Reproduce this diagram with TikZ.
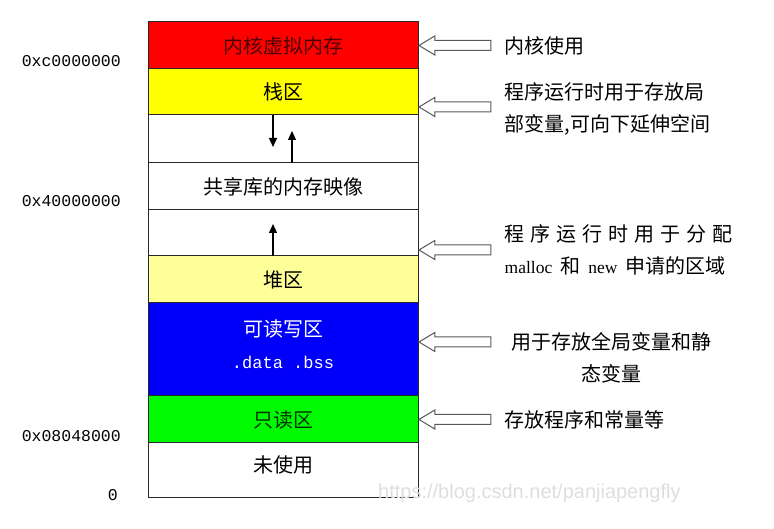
\documentclass[tikz,border=0pt]{standalone}
\usepackage{fontspec}
\setmainfont{Noto Sans CJK SC}
\newfontfamily\addrfont{Liberation Mono}
\newfontfamily\codefont{Liberation Mono}
\newfontfamily\latfont{Liberation Serif}
\newfontfamily\wmfont{Liberation Sans}
\usepackage{tikz}
\usetikzlibrary{shapes.arrows, arrows.meta, positioning, calc}
\definecolor{kernelred}{RGB}{255,0,0}
\definecolor{stackyellow}{RGB}{255,255,0}
\definecolor{heapyellow}{RGB}{255,255,153}
\definecolor{datablue}{RGB}{0,0,250}
\definecolor{rogreen}{RGB}{0,250,0}
\definecolor{edgegray}{RGB}{40,40,40}

\begin{document}
\begin{tikzpicture}[
  x=1pt, y=1pt,
  seg/.style={rectangle, draw=edgegray, line width=1pt, minimum width=270pt,
    outer sep=0pt, inner sep=0pt, font=\fontsize{20}{24}\selectfont},
  addr/.style={font=\addrfont\fontsize{16.5}{20}\selectfont, inner sep=0pt},
  note/.style={font=\fontsize{20}{32}\selectfont, align=left, inner sep=0pt},
  hollow/.style={single arrow, draw=black!65, fill=white, line width=1pt,
    shape border rotate=180, minimum height=72pt, inner xsep=0pt, inner ysep=4.5pt,
    single arrow head extend=4.5pt, single arrow tip angle=62, anchor=tip},
  growarr/.style={-{Triangle[length=9pt,width=8pt]}, line width=1.2pt}
]
  \useasboundingbox (0,0) rectangle (774,529);

  %% memory layout, top to bottom
  \node[seg, fill=kernelred, minimum height=47pt, text=red!30!black] (kernel)
    at (283,483.5) {内核虚拟内存};
  \node[seg, fill=stackyellow, minimum height=46pt, below=0pt of kernel] (stack) {栈区};
  \node[seg, fill=white, minimum height=48pt, below=0pt of stack] (gap1) {};
  \node[seg, fill=white, minimum height=47pt, below=0pt of gap1] (shlib) {共享库的内存映像};
  \node[seg, fill=white, minimum height=46pt, below=0pt of shlib] (gap2) {};
  \node[seg, fill=heapyellow, minimum height=47pt, below=0pt of gap2] (heap) {堆区};
  \node[seg, fill=datablue, minimum height=93pt, below=0pt of heap] (rw) {};
  \node[seg, fill=rogreen, minimum height=47pt, below=0pt of rw, text=green!20!black] (ro) {只读区};
  \node[seg, fill=white, minimum height=55pt, below=0pt of ro] (unused) {};

  \node[font=\fontsize{20}{32}\selectfont, align=center, text=white, inner sep=0pt]
    (rwtext) at ([yshift=-41pt]rw.north)
    {可读写区\\{\codefont\fontsize{17}{32}\selectfont .data .bss}};
  \node[font=\fontsize{20}{24}\selectfont, inner sep=0pt] (unusedtext)
    at ([yshift=5.5pt]unused.center) {未使用};

  %% growth arrows
  \coordinate (dn) at ($(gap1.north)+(-10,-32)$);
  \coordinate (up1) at ($(gap1.south)+(9,32)$);
  \coordinate (up2) at ($(gap2.south)+(-10,32)$);
  \draw[growarr] (dn |- gap1.north) -- (dn);
  \draw[growarr] (up1 |- shlib.north) -- (up1);
  \draw[growarr] (up2 |- heap.north) -- (up2);

  %% addresses
  \node[addr, left=27pt of kernel.south west, yshift=8pt] (ka) {0xc0000000};
  \node[addr, left=27pt of shlib.south west, yshift=9pt] (sa) {0x40000000};
  \node[addr, left=27pt of ro.south west, yshift=7pt] (ra) {0x08048000};
  \node[addr, left=30pt of unused.south west, yshift=3pt] (za) {0};

  %% pointers and notes
  \node[hollow] (p1) at (kernel.east) {};
  \node[hollow] (p2) at ([yshift=8pt]stack.south east) {};
  \node[hollow] (p3) at ([yshift=6pt]gap2.south east) {};
  \node[hollow] (p4) at ([yshift=7.5pt]rw.east) {};
  \node[hollow] (p5) at (ro.east) {};

  \node[note, right=13pt of p1.tail] (n1) {内核使用};
  \node[note, right=13pt of p2.tail, yshift=-2pt] (n2)
    {程序运行时用于存放局\\部变量,可向下延伸空间};
  \node[note, right=13pt of p3.tail] (n3)
    {{\spaceskip=6pt 程 序 运 行 时 用 于 分 配}\\{\spaceskip=8pt {\latfont\fontsize{17.5}{32}\selectfont malloc} 和 {\latfont\fontsize{17.5}{32}\selectfont new} 申请的区域}};
  \node[note, align=center, right=20pt of p4.tail, yshift=-15.5pt] (n4)
    {用于存放全局变量和静\\态变量};
  \node[note, right=13pt of p5.tail] (n5) {存放程序和常量等};

  \node[font=\wmfont\fontsize{20}{24}\selectfont, text=black!13, anchor=west, inner sep=0pt]
    (wm) at (378,36) {https://blog.csdn.net/panjiapengfly};
\end{tikzpicture}
\end{document}
